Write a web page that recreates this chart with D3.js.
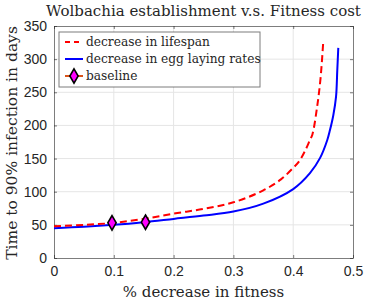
<!DOCTYPE html>
<html>
<head>
<meta charset="utf-8">
<script src="https://cdn.jsdelivr.net/npm/d3@7"></script>
<style>
  body { margin: 0; background: #fff; }
</style>
</head>
<body>
<div id="chart"></div>
<script>
// values
var lifespanX = [0, 0.05, 0.1, 0.15, 0.2, 0.25, 0.3, 0.35, 0.38, 0.4, 0.41, 0.42, 0.428, 0.432, 0.44, 0.4457, 0.45]
var lifespanY = [48, 50, 53, 59, 67, 74, 84, 102, 119, 136, 146, 162, 178, 186, 228, 271, 323]

var eggX = [0, 0.05, 0.1, 0.15, 0.2, 0.25, 0.3, 0.35, 0.4, 0.428, 0.445, 0.457, 0.4615, 0.467, 0.4716, 0.4737, 0.4754]
var eggY = [45, 47, 50, 54, 59, 64, 70, 82, 104, 128, 151, 178, 193, 215, 243, 283, 317]

var baselineX = [0.097, 0.153]
var baselineY = [53, 54]

var xTicks = [0, 0.1, 0.2, 0.3, 0.4, 0.5]
var yTicks = [0, 50, 100, 150, 200, 250, 300, 350]

var legendLabels = ["decrease in lifespan", "decrease in egg laying rates", "baseline"]

var serif = "DejaVu Serif, Liberation Serif, serif"
var sans = "Liberation Sans, Arial, sans-serif"

var margin = { top: 26, right: 37, bottom: 46, left: 54 }
var width = 390 - margin.left - margin.right,
    height = 304 - margin.top - margin.bottom

var root = d3.select("#chart").append("svg")
    .attr("width", 390)
    .attr("height", 304)

var svg = root.append("g")
    .attr("transform", "translate(" + margin.left + "," + margin.top + ")")

var x = d3.scaleLinear().domain([0, 0.5]).range([0, width])
var y = d3.scaleLinear().domain([0, 350]).range([height, 0])

// grid
svg.append("g").selectAll("line")
  .data(xTicks.slice(1, -1))
  .enter().append("line")
  .attr("x1", function(d) { return x(d) }).attr("x2", function(d) { return x(d) })
  .attr("y1", 0).attr("y2", height)
  .attr("stroke", "#e5e5e5").attr("stroke-width", 1)

svg.append("g").selectAll("line")
  .data(yTicks.slice(1, -1))
  .enter().append("line")
  .attr("y1", function(d) { return y(d) }).attr("y2", function(d) { return y(d) })
  .attr("x1", 0).attr("x2", width)
  .attr("stroke", "#e5e5e5").attr("stroke-width", 1)

// axes (inward ticks, box)
var xAxis = d3.axisBottom(x).tickValues(xTicks).tickSizeInner(-3).tickSizeOuter(0).tickPadding(8)
  .tickFormat(function(d) { return d === 0 ? "0" : d3.format(".1f")(d) })
var yAxis = d3.axisLeft(y).tickValues(yTicks).tickSizeInner(-3).tickSizeOuter(0).tickPadding(7)

svg.append("g").attr("transform", "translate(0," + height + ")").call(xAxis)
svg.append("g").call(yAxis)
svg.append("g").call(d3.axisTop(x).tickValues(xTicks).tickSizeInner(-3).tickSizeOuter(0).tickFormat(""))
svg.append("g").attr("transform", "translate(" + width + ",0)")
  .call(d3.axisRight(y).tickValues(yTicks).tickSizeInner(-3).tickSizeOuter(0).tickFormat(""))

svg.selectAll(".domain").attr("stroke", "#262626").attr("stroke-opacity", 0.6)
svg.selectAll(".tick line").attr("stroke", "#262626").attr("stroke-opacity", 0.6)
svg.selectAll(".tick text")
  .attr("font-family", sans).attr("font-size", 14).attr("fill", "#262626")

// lines
var line = d3.line()
  .x(function(d) { return x(d[0]) })
  .y(function(d) { return y(d[1]) })
  .curve(d3.curveCatmullRom.alpha(0.5))

svg.append("path")
  .datum(d3.zip(eggX, eggY))
  .attr("d", line)
  .attr("fill", "none")
  .attr("stroke", "#0000ff")
  .attr("stroke-width", 2)

svg.append("path")
  .datum(d3.zip(lifespanX, lifespanY))
  .attr("d", line)
  .attr("fill", "none")
  .attr("stroke", "#ff0000")
  .attr("stroke-width", 2)
  .attr("stroke-dasharray", "7,4")

var diamond = d3.symbol().type(d3.symbolDiamond).size(60)

svg.selectAll(".base")
  .data(d3.zip(baselineX, baselineY))
  .enter().append("path")
  .attr("class", "base")
  .attr("d", diamond)
  .attr("transform", function(d) { return "translate(" + x(d[0]) + "," + y(d[1]) + ")" })
  .attr("fill", "#ff00ff")
  .attr("stroke", "#000")
  .attr("stroke-width", 1.6)

// legend
var legend = svg.append("g").attr("transform", "translate(5,6)")
legend.append("rect")
  .attr("width", 201).attr("height", 55)
  .attr("fill", "#fff").attr("stroke", "#262626").attr("stroke-opacity", 0.6)

var rowY = [10, 27, 44]
legend.append("line").attr("x1", 6).attr("x2", 24).attr("y1", rowY[0]).attr("y2", rowY[0])
  .attr("stroke", "#ff0000").attr("stroke-width", 2).attr("stroke-dasharray", "5,4")
legend.append("line").attr("x1", 6).attr("x2", 24).attr("y1", rowY[1]).attr("y2", rowY[1])
  .attr("stroke", "#0000ff").attr("stroke-width", 2)
legend.append("line").attr("x1", 6).attr("x2", 24).attr("y1", rowY[2]).attr("y2", rowY[2])
  .attr("stroke", "#d95319").attr("stroke-width", 2)
legend.append("path").attr("d", diamond)
  .attr("transform", "translate(15," + rowY[2] + ")")
  .attr("fill", "#ff00ff").attr("stroke", "#000").attr("stroke-width", 1.6)

legend.selectAll(".lab")
  .data(legendLabels)
  .enter().append("text")
  .attr("x", 27)
  .attr("y", function(d, i) { return rowY[i] })
  .attr("dy", "0.35em")
  .attr("fill", "#262626")
  .attr("font-family", serif)
  .attr("font-size", 12.2)
  .text(function(d) { return d })

// titles
root.append("text")
  .attr("x", margin.left + width / 2).attr("y", 16)
  .attr("text-anchor", "middle")
  .attr("fill", "#262626")
  .attr("font-family", serif)
  .attr("font-size", 15)
  .text("Wolbachia establishment v.s. Fitness cost")

root.append("text")
  .attr("x", margin.left + width / 2).attr("y", 297)
  .attr("text-anchor", "middle")
  .attr("fill", "#262626")
  .attr("font-family", serif)
  .attr("font-size", 15)
  .text("% decrease in fitness")

root.append("text")
  .attr("transform", "translate(17," + (margin.top + height / 2 + 1) + ") rotate(-90)")
  .attr("text-anchor", "middle")
  .attr("fill", "#262626")
  .attr("font-family", serif)
  .attr("font-size", 15.5)
  .text("Time to 90% infection in days")
</script>
</body>
</html>
